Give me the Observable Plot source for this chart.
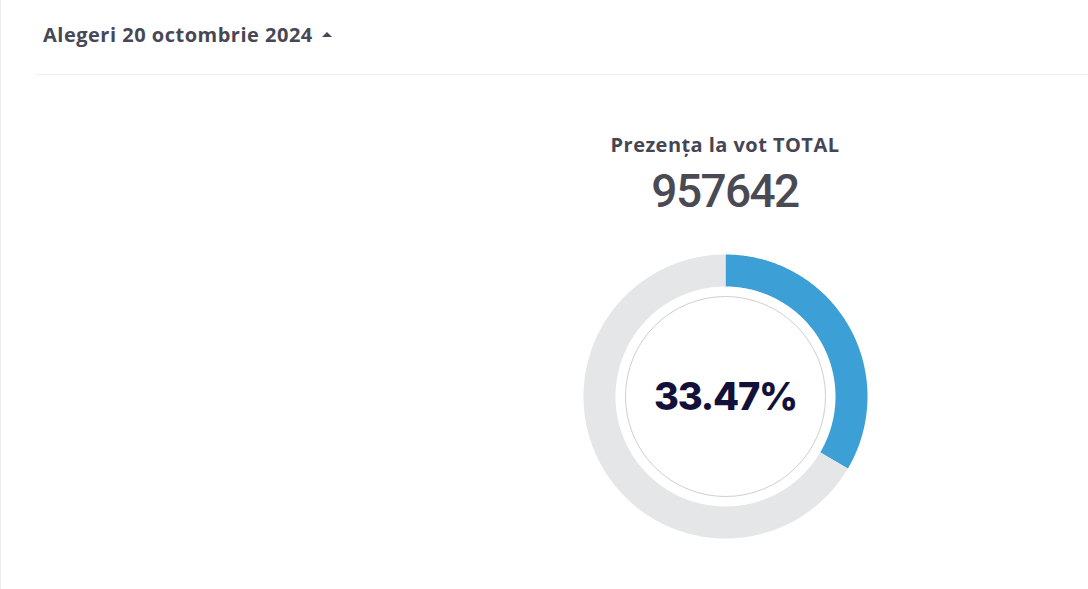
<!DOCTYPE html>
<html>
<head>
<meta charset="utf-8">
<script src="https://cdn.jsdelivr.net/npm/d3@7"></script>
<script src="https://cdn.jsdelivr.net/npm/@observablehq/plot@0.6"></script>
<style>
  html, body { margin: 0; padding: 0; background: #fff; }
  body { width: 1088px; height: 589px; position: relative; overflow: hidden; font-family: "Open Sans", "Noto Sans", sans-serif; }
  .leftline { position: absolute; left: 0; top: 0; width: 1px; height: 589px; background: #ededed; }
  .header { position: absolute; left: 43px; top: 21px; font-size: 20px; font-weight: 700; color: #474756; letter-spacing: 0.5px; }
  .caret { display: inline-block; width: 0; height: 0; border-left: 5px solid transparent; border-right: 5px solid transparent; border-bottom: 5px solid #474756; margin-left: 9px; vertical-align: 5px; }
  .rule { position: absolute; left: 36px; right: 0; top: 74px; height: 1px; background: #f0f0f0; }
  .title { position: absolute; left: 525px; width: 400px; text-align: center; top: 131px; font-size: 20px; font-weight: 700; color: #454554; letter-spacing: 0.45px; }
  .total { position: absolute; left: 525px; width: 400px; text-align: center; top: 164px; font-family: Roboto, sans-serif; font-size: 46px; font-weight: 500; color: #4a4a55; letter-spacing: -1.6px; }
  #chart { position: absolute; left: 575px; top: 246px; }
  #chart text { letter-spacing: -1.2px; }
</style>
</head>
<body>
<div class="leftline"></div>
<div class="header">Alegeri 20 octombrie 2024<span class="caret"></span></div>
<div class="rule"></div>
<div class="title" id="title"></div>
<div class="total" id="total"></div>
<div id="chart"></div>
<script>
const headerTitle = "Prezența la vot TOTAL";
const totalVoters = 957642;
const segments = ["Prezență", "Absență"];
const shares = [33.47, 66.53];
const colors = ["#3c9fd5", "#e5e6e8"];

document.getElementById("title").textContent = headerTitle;
document.getElementById("total").textContent = String(totalVoters);

// build arc paths along the donut from the shares
const ringRadius = 126;
let start = 0;
const arcPoints = [];
segments.forEach((s, i) => {
  const a0 = start / 100 * 2 * Math.PI;
  const a1 = (start + shares[i]) / 100 * 2 * Math.PI;
  const n = 240;
  for (let k = 0; k <= n; k++) {
    const a = a0 + (a1 - a0) * k / n;
    arcPoints.push({segment: s, x: ringRadius * Math.sin(a), y: ringRadius * Math.cos(a)});
  }
  start += shares[i];
});

const plot = Plot.plot({
  width: 300,
  height: 300,
  margin: 0,
  x: {domain: [-150, 150], axis: null},
  y: {domain: [-150, 150], axis: null},
  color: {domain: segments, range: colors},
  marks: [
    Plot.line(arcPoints, {x: "x", y: "y", z: "segment", stroke: "segment", strokeWidth: 32, strokeLinecap: "butt", strokeLinejoin: "round"}),
    Plot.dot([0], {frameAnchor: "middle", r: 100, fill: "white", stroke: "#cfcfcf", strokeWidth: 1}),
    Plot.text([shares[0]], {frameAnchor: "middle", text: d => d.toFixed(2) + "%", fontSize: 38, fontWeight: 800, fill: "#13103a", fontFamily: "Inter, sans-serif", dy: 1})
  ]
});
document.getElementById("chart").appendChild(plot);
</script>
</body>
</html>
